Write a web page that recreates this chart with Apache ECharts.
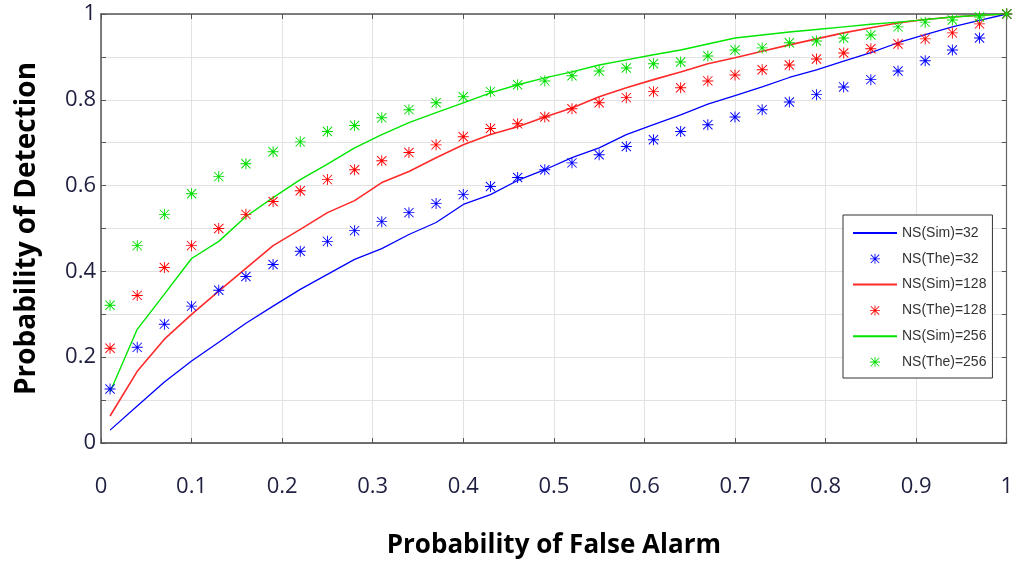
<!DOCTYPE html>
<html>
<head>
<meta charset="utf-8">
<script src="https://cdn.jsdelivr.net/npm/echarts@6/dist/echarts.min.js"></script>
<style>html,body{margin:0;padding:0;background:#fff}#c{width:1016px;height:564px}</style>
</head>
<body>
<div id="c"></div>
<script>
const pfa = [0.01,0.04,0.07,0.10,0.13,0.16,0.19,0.22,0.25,0.28,0.31,0.34,0.37,0.40,0.43,0.46,0.49,0.52,0.55,0.58,0.61,0.64,0.67,0.70,0.73,0.76,0.79,0.82,0.85,0.88,0.91,0.94,0.97,1.00];
const blueSim = [0.030,0.086,0.142,0.191,0.235,0.279,0.319,0.358,0.393,0.428,0.453,0.486,0.514,0.556,0.579,0.612,0.637,0.665,0.688,0.719,0.742,0.765,0.790,0.810,0.830,0.852,0.870,0.890,0.910,0.933,0.952,0.970,0.985,1.000];
const redSim = [0.063,0.167,0.242,0.300,0.354,0.407,0.460,0.498,0.537,0.565,0.607,0.633,0.665,0.695,0.719,0.737,0.760,0.781,0.807,0.828,0.847,0.865,0.884,0.898,0.913,0.928,0.942,0.956,0.968,0.979,0.987,0.993,0.997,1.000];
const greenSim = [0.119,0.265,0.347,0.430,0.470,0.528,0.572,0.614,0.650,0.688,0.719,0.747,0.770,0.793,0.816,0.835,0.851,0.865,0.881,0.893,0.905,0.916,0.930,0.944,0.951,0.958,0.964,0.970,0.976,0.981,0.987,0.993,0.997,1.000];
const blueThe = [0.126,0.223,0.277,0.319,0.356,0.388,0.416,0.447,0.470,0.495,0.516,0.537,0.558,0.579,0.598,0.619,0.637,0.653,0.672,0.691,0.707,0.726,0.742,0.760,0.777,0.795,0.812,0.830,0.847,0.867,0.891,0.916,0.944,1.000];
const redThe = [0.221,0.344,0.409,0.460,0.500,0.533,0.563,0.588,0.614,0.637,0.658,0.677,0.695,0.714,0.733,0.744,0.760,0.779,0.793,0.805,0.819,0.828,0.844,0.858,0.870,0.881,0.895,0.909,0.919,0.930,0.942,0.956,0.977,1.000];
const greenThe = [0.321,0.460,0.533,0.581,0.621,0.651,0.679,0.702,0.726,0.740,0.758,0.777,0.793,0.807,0.819,0.835,0.844,0.856,0.867,0.874,0.884,0.888,0.902,0.916,0.921,0.933,0.937,0.944,0.951,0.970,0.981,0.986,0.993,1.000];
const names = ['NS(Sim)=32','NS(The)=32','NS(Sim)=128','NS(The)=128','NS(Sim)=256','NS(The)=256'];
const xTickLabels = ['0','0.1','0.2','0.3','0.4','0.5','0.6','0.7','0.8','0.9','1'];

const star = 'path://M11 0L13 0L13 24L11 24Z M0 11L24 11L24 13L0 13Z M1.2 2.6L2.6 1.2L22.8 21.4L21.4 22.8Z M21.4 1.2L22.8 2.6L2.6 22.8L1.2 21.4Z';
const pair = (ys) => pfa.map((x, i) => [x, ys[i]]);

const chart = echarts.init(document.getElementById('c'), null, {renderer: 'canvas'});
const labelFont = {fontFamily: 'Open Sans', fontSize: 22, color: '#1e1e40'};
const tickStyle = {show: true, inside: true, length: 5, lineStyle: {color: '#555', width: 1}};
function lineS(name, data, color, w) {
  return {name, type: 'line', data: pair(data), symbol: 'none', showSymbol: false,
    lineStyle: {color, width: w}, itemStyle: {color}, z: 2, animation: false};
}
function scat(name, data, color) {
  return {name, type: 'scatter', data: pair(data), symbol: star, symbolSize: 11,
    itemStyle: {color, opacity: 1}, z: 3, animation: false, clip: false};
}
chart.setOption({
  backgroundColor: '#fff',
  animation: false,
  grid: {left: 101, right: 5, top: 14, bottom: 120, containLabel: false},
  xAxis: [{
    type: 'value', min: 0, max: 1, interval: 0.1, position: 'bottom',
    name: 'Probability of False Alarm', nameLocation: 'middle', nameGap: 90,
    nameTextStyle: {fontFamily: 'Open Sans', fontWeight: 'bold', fontSize: 26, color: '#000'},
    axisLine: {show: true, onZero: false, lineStyle: {color: '#444', width: 1.5}},
    axisTick: tickStyle,
    axisLabel: Object.assign({margin: 33, formatter: (v) => xTickLabels[Math.round(v * 10)]}, labelFont),
    splitLine: {show: true, lineStyle: {color: '#e2e2e2', width: 1}}
  }, {
    type: 'value', min: 0, max: 1, interval: 0.1, position: 'top',
    axisLine: {show: true, onZero: false, lineStyle: {color: '#555', width: 1.5}},
    axisTick: tickStyle, axisLabel: {show: false}, splitLine: {show: false}
  }],
  yAxis: [{
    type: 'value', min: 0, max: 1, interval: 0.1, position: 'left',
    name: 'Probability of Detection', nameLocation: 'middle', nameGap: 60,
    nameTextStyle: {fontFamily: 'Open Sans', fontWeight: 'bold', fontSize: 28, color: '#000'},
    axisLine: {show: true, onZero: false, lineStyle: {color: '#555', width: 1.5}},
    axisTick: tickStyle,
    axisLabel: Object.assign({margin: 5, formatter: (v) => {
      const k = Math.round(v * 10);
      if (k % 2) return '';
      return k === 10 ? '1' : (k === 0 ? '0' : (k / 10).toFixed(1));
    }}, labelFont),
    splitLine: {show: true, lineStyle: {color: '#e2e2e2', width: 1}}
  }, {
    type: 'value', min: 0, max: 1, interval: 0.1, position: 'right',
    axisLine: {show: true, onZero: false, lineStyle: {color: '#666', width: 1.2}},
    axisTick: tickStyle, axisLabel: {show: false}, splitLine: {show: false}
  }],
  legend: {
    orient: 'vertical', left: 843, top: 215,
    data: names.map((n, i) => i % 2 === 0 ? {name: n, itemStyle: {opacity: 0}} : {name: n}),
    backgroundColor: '#fff', borderColor: '#333', borderWidth: 1,
    padding: [11, 6, 9, 9], itemGap: 11.8, itemWidth: 44, itemHeight: 10,
    textStyle: {fontFamily: 'Liberation Sans', fontSize: 14, lineHeight: 14, color: '#333'},
    selectedMode: false
  },
  series: [
    lineS(names[0], blueSim, '#0000ff', 1.3),
    scat(names[1], blueThe, '#0000ff'),
    lineS(names[2], redSim, '#ff2a2a', 1.6),
    scat(names[3], redThe, '#ff0000'),
    lineS(names[4], greenSim, '#00e600', 1.4),
    scat(names[5], greenThe, '#00dd00')
  ]
});
</script>
</body>
</html>
